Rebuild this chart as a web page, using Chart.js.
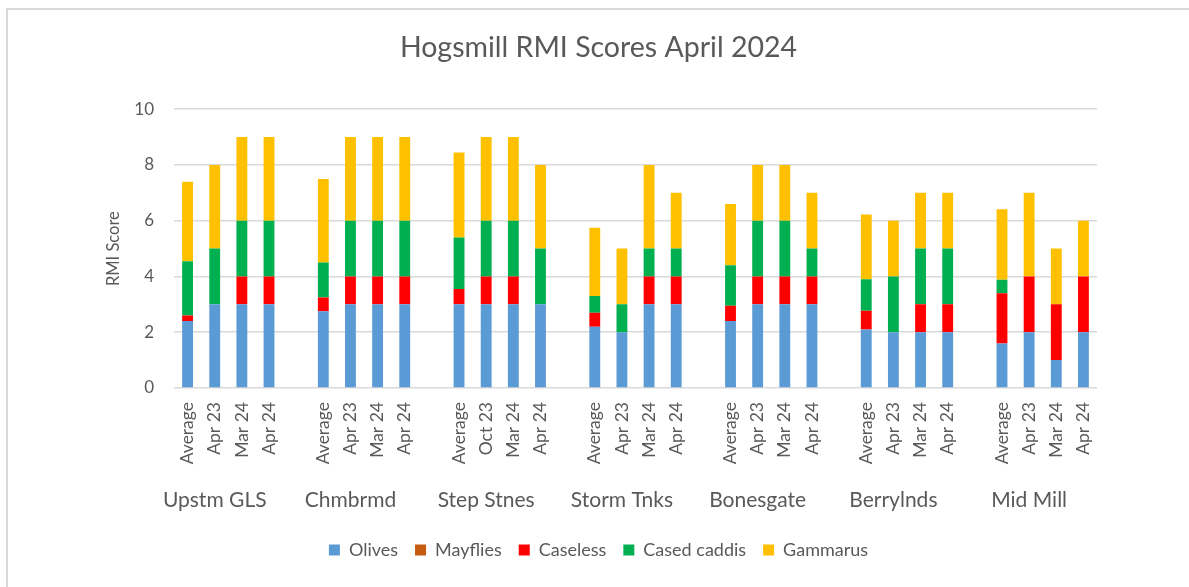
<!DOCTYPE html>
<html>
<head>
<meta charset="utf-8">
<script src="https://cdn.jsdelivr.net/npm/chart.js@4/dist/chart.umd.min.js"></script>
<style>
  html, body { margin: 0; padding: 0; background: #fff; overflow: hidden; }
  #frame { position: absolute; left: 6px; top: 8px; width: 1200px; height: 600px; border: 2px solid #d9d9d9; }
  #wrap { position: absolute; left: 0; top: 0; width: 1189px; height: 587px; }
</style>
</head>
<body>
<div id="frame"></div>
<div id="wrap"><canvas id="rmi"></canvas></div>
<script>
// ===== Data =====
const sites = ["Upstm GLS", "Chmbrmd", "Step Stnes", "Storm Tnks", "Bonesgate", "Berrylnds", "Mid Mill"];
const samples = [
  ["Average", "Apr 23", "Mar 24", "Apr 24"],
  ["Average", "Apr 23", "Mar 24", "Apr 24"],
  ["Average", "Oct 23", "Mar 24", "Apr 24"],
  ["Average", "Apr 23", "Mar 24", "Apr 24"],
  ["Average", "Apr 23", "Mar 24", "Apr 24"],
  ["Average", "Apr 23", "Mar 24", "Apr 24"],
  ["Average", "Apr 23", "Mar 24", "Apr 24"]
];
const olives      = [2.4, 3, 3, 3,  2.75, 3, 3, 3,  3, 3, 3, 3,     2.2, 2, 3, 3,   2.4, 3, 3, 3,   2.1, 2, 2, 2,   1.6, 2, 1, 2];
const mayflies    = [0, 0, 0, 0,    0, 0, 0, 0,     0, 0, 0, 0,     0, 0, 0, 0,     0, 0, 0, 0,     0, 0, 0, 0,     0, 0, 0, 0];
const caseless    = [0.2, 0, 1, 1,  0.5, 1, 1, 1,   0.55, 1, 1, 0,  0.5, 0, 1, 1,   0.55, 1, 1, 1,  0.67, 0, 1, 1,  1.8, 2, 2, 2];
const casedCaddis = [1.95, 2, 2, 2, 1.25, 2, 2, 2,  1.85, 2, 2, 2,  0.6, 1, 1, 1,   1.45, 2, 2, 1,  1.13, 2, 2, 2,  0.48, 0, 0, 0];
const gammarus    = [2.85, 3, 3, 3, 3.0, 3, 3, 3,   3.05, 3, 3, 3,  2.45, 2, 3, 2,  2.2, 2, 2, 2,   2.32, 2, 2, 2,  2.53, 3, 2, 2];

// ===== Build slots (one blank slot between sites) =====
const dateLabels = [];
const siteLabels = [];
const slotIndex = [];
sites.forEach((site, g) => {
  if (g > 0) { dateLabels.push(""); siteLabels.push(""); slotIndex.push(-1); }
  samples[g].forEach((s, i) => {
    dateLabels.push(s);
    siteLabels.push(i === 1 ? site : "");
    slotIndex.push(g * 4 + i);
  });
});
const spread = arr => slotIndex.map(k => (k < 0 ? null : arr[k]));

const grey = "#595959";
const font = "Lato, 'Open Sans', sans-serif";

const series = [
  { label: "Olives", data: olives, color: "#5b9bd5" },
  { label: "Mayflies", data: mayflies, color: "#c55a11" },
  { label: "Caseless", data: caseless, color: "#ff0000" },
  { label: "Cased caddis", data: casedCaddis, color: "#00b050" },
  { label: "Gammarus", data: gammarus, color: "#ffc000" }
];

new Chart(document.getElementById("rmi"), {
  type: "bar",
  data: {
    labels: dateLabels,
    datasets: series.map(s => ({
      label: s.label,
      data: spread(s.data),
      backgroundColor: s.color,
      borderWidth: 0,
      barPercentage: 0.4,
      categoryPercentage: 1.0,
      xAxisID: "x"
    }))
  },
  options: {
    responsive: true,
    maintainAspectRatio: false,
    animation: false,
    layout: { padding: { left: 100, right: 92, top: 0, bottom: 18 } },
    plugins: {
      title: {
        display: true,
        text: "Hogsmill RMI Scores April 2024",
        color: grey,
        font: { family: font, size: 28.5, weight: "normal" },
        padding: { top: 31, bottom: 44 }
      },
      legend: {
        position: "bottom",
        labels: {
          color: grey,
          font: { family: font, size: 18 },
          boxWidth: 11,
          boxHeight: 11,
          padding: 17
        }
      },
      tooltip: { enabled: false }
    },
    scales: {
      x: {
        stacked: true,
        weight: 0,
        grid: { display: false },
        border: { display: false },
        ticks: {
          color: grey,
          font: { family: font, size: 17.5 },
          minRotation: 90,
          maxRotation: 90,
          autoSkip: false,
          padding: 6
        },
        afterFit: (scale) => { scale.height = 90; }
      },
      x2: {
        type: "category",
        position: "bottom",
        labels: siteLabels,
        offset: true,
        weight: 1,
        grid: { display: false },
        border: { display: false },
        ticks: {
          color: grey,
          font: { family: font, size: 21 },
          minRotation: 0,
          maxRotation: 0,
          autoSkip: false,
          padding: 2
        },
        afterFit: (scale) => { scale.height = 46; }
      },
      y: {
        stacked: true,
        min: 0,
        max: 10,
        ticks: {
          stepSize: 2,
          color: grey,
          font: { family: font, size: 17 },
          padding: 20
        },
        grid: { color: "#d9d9d9", lineWidth: 1.5, drawTicks: false },
        border: { display: false },
        title: {
          display: true,
          text: "RMI Score",
          color: grey,
          font: { family: font, size: 16.5 },
          padding: 4
        },
        afterFit: (scale) => { scale.width = 74; }
      }
    }
  }
});
</script>
</body>
</html>
